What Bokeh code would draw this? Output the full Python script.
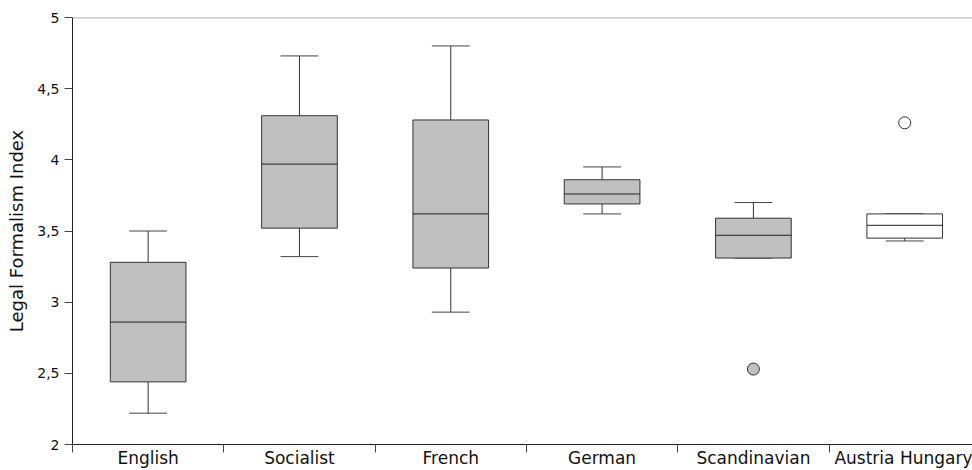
from bokeh.plotting import figure
from bokeh.models import FixedTicker, Range1d, Span
from bokeh.embed import file_html
from bokeh.resources import INLINE

categories = ["English", "Socialist", "French", "German", "Scandinavian", "Austria Hungary"]
lower = [2.22, 3.32, 2.93, 3.62, 3.31, 3.43]
q1 = [2.44, 3.52, 3.24, 3.69, 3.31, 3.45]
median = [2.86, 3.97, 3.62, 3.76, 3.47, 3.54]
q3 = [3.28, 4.31, 4.28, 3.86, 3.59, 3.62]
upper = [3.50, 4.73, 4.80, 3.95, 3.70, 3.62]
box_fill = ["#c0c0c0", "#c0c0c0", "#c0c0c0", "#c0c0c0", "#c0c0c0", "#ffffff"]
outlier_cat = [4, 5]
outlier_val = [2.53, 4.26]
outlier_fill = ["#c0c0c0", "#ffffff"]
y_ticks = [2, 2.5, 3, 3.5, 4, 4.5, 5]
y_labels = ["2", "2,5", "3", "3,5", "4", "4,5", "5"]

n = len(categories)
centers = [i + 0.5 for i in range(n)]
bw = 0.25
cw = 0.125

p = figure(width=972, height=470, output_backend="svg", toolbar_location=None,
           x_range=Range1d(0, 5.948), y_range=Range1d(2, 5),
           min_border_left=72, min_border_right=0, min_border_top=17, min_border_bottom=0)
p.grid.visible = False
p.outline_line_color = None
p.background_fill_color = "white"
p.border_fill_color = "white"
p.add_layout(Span(location=5, dimension="width", line_color="#999999", line_width=1.5))

font = "DejaVu Sans"

# whiskers
p.segment(x0=centers, y0=q3, x1=centers, y1=upper, line_color="#333333", line_width=1)
p.segment(x0=centers, y0=lower, x1=centers, y1=q1, line_color="#333333", line_width=1)
p.segment(x0=[c - cw for c in centers], y0=upper, x1=[c + cw for c in centers], y1=upper,
          line_color="#444444", line_width=1)
p.segment(x0=[c - cw for c in centers], y0=lower, x1=[c + cw for c in centers], y1=lower,
          line_color="#444444", line_width=1)
# boxes
p.quad(left=[c - bw for c in centers], right=[c + bw for c in centers], bottom=q1, top=q3,
       fill_color=box_fill, line_color="#333333", line_width=1)
p.segment(x0=[c - bw for c in centers], y0=median, x1=[c + bw for c in centers], y1=median,
          line_color="#222222", line_width=1)
# outliers
p.scatter(x=[outlier_cat[i] + 0.5 for i in range(len(outlier_cat))], y=outlier_val, size=12,
          fill_color=outlier_fill, line_color="#333333", line_width=1)

# x axis
xa = p.xaxis[0]
xa.ticker = FixedTicker(ticks=centers, minor_ticks=list(range(n)))
xa.major_label_overrides = {c: categories[i] for i, c in enumerate(centers)}
xa.major_tick_line_color = None
xa.minor_tick_in = 0
xa.minor_tick_out = 8
xa.minor_tick_line_color = "#444444"
xa.axis_line_color = "#222222"
xa.major_label_text_font = font
xa.major_label_text_font_size = "17px"
xa.major_label_text_color = "#111111"
xa.major_label_standoff = -5

# y axis
ya = p.yaxis[0]
ya.ticker = FixedTicker(ticks=y_ticks)
ya.major_label_overrides = {t: l for t, l in zip(y_ticks, y_labels)}
ya.major_tick_in = 0
ya.major_tick_out = 8
ya.minor_tick_line_color = None
ya.axis_line_color = "#222222"
ya.major_tick_line_color = "#444444"
ya.major_label_text_font = font
ya.major_label_text_font_size = "14px"
ya.major_label_text_color = "#111111"
ya.major_label_standoff = 5
ya.axis_label = "Legal Formalism Index"
ya.axis_label_text_font = font
ya.axis_label_text_font_size = "18px"
ya.axis_label_text_font_style = "normal"
ya.axis_label_text_color = "#111111"
ya.axis_label_standoff = 7

open("out.html", "w").write(file_html(p, INLINE))
